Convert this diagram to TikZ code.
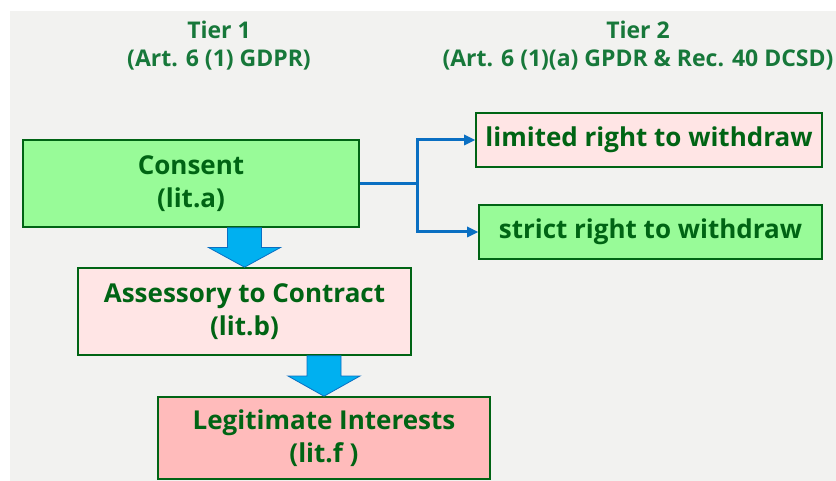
\documentclass[tikz,border=0pt]{standalone}
\usepackage{fontspec}
\setmainfont{Open Sans}
\usetikzlibrary{calc}

\definecolor{bggray}{HTML}{F2F2F0}
\definecolor{leafgreen}{HTML}{98FB98}
\definecolor{palepink}{HTML}{FFE5E5}
\definecolor{rosepink}{HTML}{FFBBBB}
\definecolor{darkgreen}{HTML}{006414}
\definecolor{tiergreen}{HTML}{17783A}
\definecolor{linkblue}{HTML}{0A6FC2}
\definecolor{arrowcyan}{HTML}{00B0F0}

\tikzset{
	basisbox/.style={draw=darkgreen, line width=1.6pt, inner sep=0pt, align=center,
		text=darkgreen, font=\bfseries\fontsize{26}{33}\selectfont},
	tierbox/.style={basisbox, minimum width=334pt, minimum height=87pt},
	rightbox/.style={basisbox, minimum height=54pt},
	tierhead/.style={text=tiergreen, align=center, font=\bfseries\fontsize{23}{28}\selectfont},
	linkbar/.style={fill=linkblue},
	downarr/.style={fill=arrowcyan, draw=linkblue, line width=0.8pt, line join=miter}
}

% block arrow from the bottom of #1 down to the top of #2
\newcommand\tierarrow[2]{%
	\draw[downarr] let \p1=(#1.south), \p2=(#2.north) in
		(\x2-17,\y1) -- (\x2+17,\y1) -- (\x2+17,{(\y1+\y2)/2}) -- (\x2+36,{(\y1+\y2)/2})
		-- (\x2,\y2) -- (\x2-36,{(\y1+\y2)/2}) -- (\x2-17,{(\y1+\y2)/2}) -- cycle;
}
% blue link from coordinate #1 to the west side of #2, with its tip
\newcommand\tierlink[2]{%
	\fill[linkbar] ($(#1)+(-1.5,-1.5)$) rectangle ($(#2.west)+(-8,1.5)$);
	\fill[linkbar] (#2.west) -- ++(-11,-5.5) -- ++(0,11) -- cycle;
}

\begin{document}
\begin{tikzpicture}[x=1pt,y=-1pt]
	\useasboundingbox (0,0) rectangle (836,481);
	%Hintergrund
	\fill[bggray] (10,11) rectangle (836,481);

	%Ueberschriften
	\node[tierhead] (tierone) at (219,46) {Tier 1\\(Art. 6 (1) GDPR)};
	\node[tierhead] (tiertwo) at (638,46) {Tier 2\\(Art. 6 (1)(a) GPDR \& Rec. 40 DCSD)};

	%Stufe 1
	\node[tierbox, fill=leafgreen, minimum width=336pt] (consent) at (191,183.5) {Consent\\(lit.a)};
	\node[tierbox, fill=palepink, minimum width=333pt] (contract) at (244.5,311.5) {Assessory to Contract\\(lit.b)};
	\node[tierbox, fill=rosepink, minimum width=332pt, minimum height=82pt] (interests) at (324,438) {Legitimate Interests\\(lit.f )};

	%Stufe 2
	\node[rightbox, fill=palepink, minimum width=346pt] (limited) at (649,140) {limited right to withdraw};
	\node[rightbox, fill=leafgreen, minimum width=343pt] (strict) at (650.5,232) {strict right to withdraw};

	%Pfeile nach unten
	\tierarrow{consent}{contract}
	\tierarrow{contract}{interests}

	%Verzweigung
	\coordinate (fork) at ($(consent.east)+(58,0)$);
	\coordinate (forktop) at (fork |- limited.west);
	\coordinate (forkbot) at (fork |- strict.west);
	\fill[linkbar] ($(consent.east)+(0,-1.5)$) rectangle ($(fork)+(0,1.5)$);
	\fill[linkbar] ($(forktop)+(-1.5,-1.5)$) rectangle ($(forkbot)+(1.5,1.5)$);
	\tierlink{forktop}{limited}
	\tierlink{forkbot}{strict}
\end{tikzpicture}
\end{document}
